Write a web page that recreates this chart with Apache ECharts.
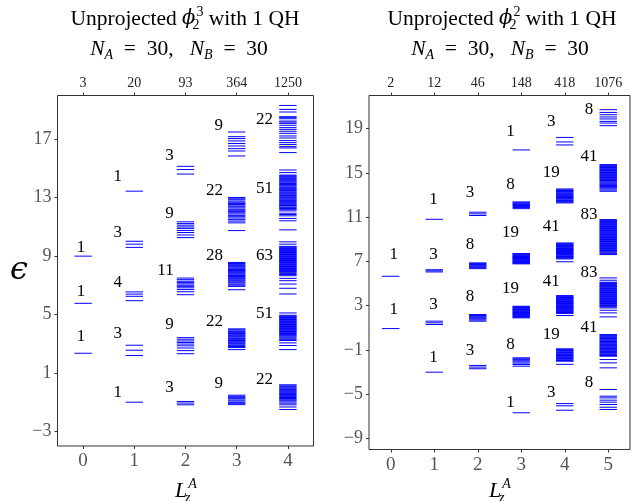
<!DOCTYPE html>
<html>
<head>
<meta charset="utf-8">
<script src="https://cdn.jsdelivr.net/npm/echarts/dist/echarts.min.js"></script>
<style>
html, body { margin: 0; padding: 0; background: #fff; }
#main { width: 634px; height: 501px; }
</style>
</head>
<body>
<div id="main"></div>
<script>
// ---- data ----
// panel A : phi_2^3 , panel B : phi_2^2
var lzA = [0, 1, 2, 3, 4];
var lzB = [0, 1, 2, 3, 4, 5];
var dimsA = [3, 20, 93, 364, 1250];
var dimsB = [2, 12, 46, 148, 418, 1076];
var yTicksA = [-3, 1, 5, 9, 13, 17];
var yTicksB = [-9, -5, -1, 3, 7, 11, 15, 19];

// number of levels in each cluster, top to bottom
var countsA = [[1, 1, 1], [1, 3, 4, 3, 1], [3, 9, 11, 9, 3], [9, 22, 28, 22, 9], [22, 51, 63, 51, 22]];
var countsB = [[1, 1], [1, 3, 3, 1], [3, 8, 8, 3], [1, 8, 19, 19, 8, 1], [3, 19, 41, 41, 19, 3], [8, 41, 83, 83, 41, 8]];

// entanglement energies, one array per L_z^A, clusters top to bottom
var levelsA0 = [[9.0], [5.77], [2.35]];
var levelsA1 = [[13.45], [10.02, 9.82, 9.6], [6.55, 6.4, 6.25, 5.95], [2.9, 2.56, 2.2], [-1.0]];
var levelsA2 = [
	[15.15, 14.93, 14.62],
	[11.35, 11.23, 11.12, 11.0, 10.9, 10.76, 10.62, 10.45, 10.27],
	[7.5, 7.39, 7.28, 7.19, 7.1, 7.01, 6.93, 6.83, 6.71, 6.56, 6.36],
	[3.42, 3.31, 3.19, 3.09, 2.98, 2.86, 2.71, 2.53, 2.32],
	[-0.95, -1.06, -1.18]
];
var levelsA3 = [
	[17.5, 17.18, 17.05, 16.89, 16.71, 16.54, 16.36, 16.2, 15.86],
	[13.02, 12.93, 12.86, 12.77, 12.69, 12.6, 12.53, 12.44, 12.38, 12.3, 12.21, 12.14, 12.05, 11.97, 11.89, 11.79, 11.7, 11.61, 11.5, 11.4, 11.28, 10.75],
	[8.57, 8.5, 8.44, 8.37, 8.31, 8.26, 8.19, 8.13, 8.08, 8.02, 7.96, 7.9, 7.85, 7.79, 7.72, 7.67, 7.61, 7.55, 7.48, 7.42, 7.35, 7.29, 7.22, 7.16, 7.08, 7.01, 6.93, 6.7],
	[4.02, 3.96, 3.88, 3.83, 3.76, 3.7, 3.65, 3.58, 3.52, 3.47, 3.4, 3.35, 3.28, 3.22, 3.17, 3.1, 3.03, 2.97, 2.89, 2.81, 2.74, 2.6],
	[-0.52, -0.6, -0.69, -0.76, -0.85, -0.92, -1.01, -1.08, -1.17]
];
var levelsA4 = [
	[19.32, 19.05, 18.87, 18.55, 18.48, 18.41, 18.25, 18.18, 18.09, 17.96, 17.8, 17.68, 17.55, 17.41, 17.23, 17.09, 16.91, 16.77, 16.64, 16.5, 16.41, 16.09],
	[14.9, 14.72, 14.55, 14.5, 14.44, 14.37, 14.33, 14.26, 14.2, 14.15, 14.09, 14.02, 13.97, 13.9, 13.86, 13.8, 13.73, 13.68, 13.62, 13.55, 13.5, 13.45, 13.38, 13.33, 13.27, 13.2, 13.16, 13.1, 13.03, 12.98, 12.92, 12.86, 12.8, 12.75, 12.69, 12.63, 12.58, 12.52, 12.47, 12.44, 12.36, 12.31, 12.26, 12.18, 12.1, 11.94, 11.85, 11.76, 11.58, 11.42, 10.8],
	[9.98, 9.82, 9.67, 9.62, 9.57, 9.53, 9.48, 9.44, 9.39, 9.34, 9.3, 9.25, 9.21, 9.16, 9.11, 9.07, 9.02, 8.98, 8.93, 8.88, 8.84, 8.79, 8.75, 8.7, 8.65, 8.61, 8.56, 8.52, 8.47, 8.42, 8.38, 8.33, 8.29, 8.24, 8.19, 8.15, 8.1, 8.06, 8.01, 7.96, 7.92, 7.86, 7.8, 7.74, 7.66, 7.48, 7.32, 7.09, 6.8, 6.41],
	[5.11, 4.95, 4.9, 4.85, 4.8, 4.76, 4.71, 4.66, 4.61, 4.56, 4.52, 4.47, 4.42, 4.37, 4.32, 4.28, 4.23, 4.18, 4.13, 4.08, 4.04, 3.99, 3.94, 3.89, 3.84, 3.8, 3.75, 3.7, 3.64, 3.58, 3.52, 3.45, 3.38, 3.3, 3.22, 3.06, 2.88, 2.6],
	[0.19, 0.12, 0.06, -0.01, -0.08, -0.14, -0.21, -0.28, -0.35, -0.41, -0.48, -0.55, -0.62, -0.68, -0.75, -0.83, -0.9, -0.98, -1.07, -1.18, -1.33, -1.5]
];

var levelsB0 = [[5.66], [0.93]];
var levelsB1 = [[10.81], [6.25, 6.15, 6.05], [1.6, 1.45, 1.3], [-3.01]];
var levelsB2 = [
	[11.45, 11.3, 11.15],
	[6.87, 6.8, 6.73, 6.65, 6.57, 6.5, 6.43, 6.35],
	[2.2, 2.12, 2.04, 1.95, 1.87, 1.79, 1.7, 1.6],
	[-2.4, -2.55, -2.7]
];
var levelsB3 = [
	[17.08],
	[12.38, 12.31, 12.22, 12.15, 12.06, 11.97, 11.88, 11.77],
	[7.71, 7.66, 7.6, 7.56, 7.5, 7.45, 7.41, 7.35, 7.3, 7.26, 7.2, 7.15, 7.1, 7.04, 6.99, 6.93, 6.88, 6.83, 6.78],
	[2.95, 2.9, 2.83, 2.78, 2.72, 2.66, 2.61, 2.55, 2.49, 2.43, 2.38, 2.31, 2.26, 2.2, 2.14, 2.08, 2.02, 1.96, 1.9],
	[-1.71, -1.8, -1.88, -1.98, -2.08, -2.19, -2.32, -2.47],
	[-6.68]
];
var levelsB4 = [
	[18.21, 17.8, 17.53],
	[13.55, 13.47, 13.41, 13.33, 13.27, 13.2, 13.12, 13.06, 12.98, 12.92, 12.86, 12.78, 12.71, 12.65, 12.57, 12.5, 12.43, 12.36, 12.29],
	[8.67, 8.6, 8.56, 8.49, 8.45, 8.38, 8.33, 8.29, 8.22, 8.17, 8.11, 8.07, 8.0, 7.96, 7.9, 7.83, 7.79, 7.72, 7.68, 7.61, 7.57, 7.5, 7.45, 7.41, 7.34, 7.29, 7.23, 6.97],
	[3.91, 3.85, 3.79, 3.74, 3.67, 3.62, 3.55, 3.5, 3.44, 3.38, 3.32, 3.27, 3.2, 3.15, 3.09, 3.03, 2.97, 2.92, 2.85, 2.8, 2.74, 2.68, 2.62, 2.57, 2.5, 2.45, 2.38, 2.3, 2.11],
	[-0.9, -0.97, -1.04, -1.1, -1.17, -1.24, -1.3, -1.37, -1.43, -1.5, -1.57, -1.63, -1.7, -1.77, -1.83, -1.9, -1.96, -2.02, -2.3],
	[-5.85, -6.05, -6.45]
];
var levelsB5 = [
	[20.72, 20.47, 20.26, 20.06, 19.88, 19.66, 19.51, 19.27],
	[15.75, 15.69, 15.62, 15.56, 15.49, 15.43, 15.36, 15.3, 15.23, 15.17, 15.1, 15.04, 14.97, 14.91, 14.84, 14.78, 14.71, 14.65, 14.58, 14.52, 14.45, 14.39, 14.32, 14.26, 14.18, 14.1, 14.02, 13.94, 13.86, 13.78, 13.71, 13.64, 13.55, 13.45, 13.34],
	[10.78, 10.72, 10.66, 10.6, 10.53, 10.47, 10.41, 10.35, 10.29, 10.22, 10.16, 10.1, 10.04, 9.98, 9.91, 9.85, 9.79, 9.73, 9.67, 9.6, 9.54, 9.48, 9.42, 9.36, 9.29, 9.23, 9.17, 9.11, 9.05, 8.98, 8.92, 8.86, 8.8, 8.74, 8.67, 8.61, 8.55, 8.49, 8.43, 8.36, 8.3, 8.24, 8.18, 8.12, 8.05, 7.99, 7.93, 7.86, 7.78, 7.7, 7.62],
	[5.51, 5.3, 5.12, 5.06, 5.0, 4.93, 4.87, 4.81, 4.75, 4.69, 4.62, 4.56, 4.5, 4.44, 4.38, 4.31, 4.25, 4.19, 4.13, 4.07, 4.0, 3.94, 3.88, 3.82, 3.76, 3.69, 3.63, 3.57, 3.51, 3.45, 3.38, 3.32, 3.26, 3.2, 3.14, 3.07, 3.01, 2.95, 2.88, 2.8, 2.59, 2.35, 1.99],
	[0.39, 0.32, 0.25, 0.18, 0.11, 0.04, -0.03, -0.1, -0.17, -0.24, -0.31, -0.38, -0.45, -0.52, -0.59, -0.66, -0.73, -0.8, -0.87, -0.94, -1.01, -1.08, -1.15, -1.22, -1.29, -1.36, -1.43, -1.5, -1.57, -1.87, -2.17, -2.62],
	[-4.58, -5.18, -5.33, -5.54, -5.72, -5.93, -6.18, -6.38]
];

// ---- layout of the count labels (energy axis units) ----
var labelYA = [[9.57, 6.61, 3.52], [14.47, 10.62, 7.2, 3.67, -0.31], [15.86, 11.94, 8.0, 4.29, 0.03], [17.96, 13.51, 9.03, 4.52, 0.26], [18.37, 13.63, 9.03, 5.04, 0.53]];
var labelYB = [[7.62, 2.65], [12.59, 7.62, 3.1, -1.72], [13.19, 8.52, 3.85, -1.03], [18.76, 13.94, 9.58, 4.52, -0.51, -5.78], [19.66, 15.0, 10.18, 5.21, 0.39, -4.82], [20.72, 16.5, 11.23, 6.02, 1.0, -3.97]];
var labelDxA = [-0.04, -0.24, -0.23, -0.27, -0.29];
var labelAlignA = ['center', 'right', 'right', 'right', 'right'];
var labelDxB = [0.07, -0.02, -0.18, -0.25, -0.31, -0.44];
var labelAlignB = ['center', 'center', 'center', 'center', 'center', 'center'];

var serif = '"Liberation Serif", "DejaVu Serif", serif';

function toLines(cols) {
	var out = [];
	cols.forEach(function(clusters, L) {
		clusters.forEach(function(c) {
			c.forEach(function(e) { out.push([L, e]); });
		});
	});
	return out;
}

function toLabels(counts, ys) {
	var out = [];
	counts.forEach(function(col, L) {
		col.forEach(function(n, k) { out.push([L, ys[L][k], n]); });
	});
	return out;
}

// short horizontal segment for every level
function drawLevel(halfW) {
	return function(params, api) {
		var x = api.value(0), y = api.value(1);
		var p1 = api.coord([x - halfW, y]);
		var p2 = api.coord([x + halfW, y]);
		return {
			type : 'line',
			shape : { x1 : p1[0], y1 : p1[1], x2 : p2[0], y2 : p2[1] },
			style : { stroke : '#0000ff', lineWidth : 1 }
		};
	};
}

function drawCount(dx, align) {
	return function(params, api) {
		var L = api.value(0);
		var p = api.coord([L + dx[L], api.value(1)]);
		return {
			type : 'text',
			x : p[0],
			y : p[1],
			style : {
				text : String(api.value(2)),
				fill : '#000',
				fontSize : 17,
				fontFamily : serif,
				align : align[L],
				verticalAlign : 'middle',
				textAlign : align[L],
				textVerticalAlign : 'middle'
			}
		};
	};
}

function minus(v) {
	return v < 0 ? '\u2212' + Math.abs(v) : String(v);
}

function mathRich(size) {
	var s = Math.round(size * 0.65);
	return {
		i : { fontFamily : serif, fontStyle : 'italic', fontSize : size, lineHeight : size + 6 },
		g : { fontFamily : '"DejaVu Serif", serif', fontStyle : 'italic', fontSize : size - 2, lineHeight : size + 6 },
		sb : { fontFamily : serif, fontStyle : 'italic', fontSize : s, lineHeight : s + 1, verticalAlign : 'bottom' },
		sbs : { fontFamily : serif, fontSize : s, lineHeight : s + 1, verticalAlign : 'bottom', width : 1 },
		sbi : { fontFamily : serif, fontStyle : 'italic', fontSize : s, lineHeight : s + 1, verticalAlign : 'bottom', width : 1 },
		sp : { fontFamily : serif, fontSize : s, lineHeight : s + 1, verticalAlign : 'top' },
		spi : { fontFamily : serif, fontStyle : 'italic', fontSize : s, lineHeight : s + 1, verticalAlign : 'top' }
	};
}

function mathText(x, y, text, size) {
	return {
		type : 'text',
		x : x,
		y : y,
		silent : true,
		style : {
			text : text,
			rich : mathRich(size),
			fill : '#000',
			fontSize : size,
			fontFamily : serif,
			lineHeight : size + 6,
			align : 'center',
			verticalAlign : 'middle',
			textAlign : 'center',
			textVerticalAlign : 'middle'
		}
	};
}

function xAxes(grid, lz, dims) {
	var max = lz[lz.length - 1] + 0.5;
	return [ {
		type : 'value',
		gridIndex : grid,
		min : -0.5,
		max : max,
		position : 'bottom',
		axisLine : { show : false, onZero : false },
		splitLine : { show : false },
		axisTick : { show : true, length : 3, customValues : lz, lineStyle : { color : '#333' } },
		axisLabel : { customValues : lz, margin : 6, fontSize : 19, fontFamily : serif, color : '#555' }
	}, {
		type : 'value',
		gridIndex : grid,
		min : -0.5,
		max : max,
		position : 'top',
		axisLine : { show : false, onZero : false },
		splitLine : { show : false },
		axisTick : { show : true, length : 3, customValues : lz, lineStyle : { color : '#333' } },
		axisLabel : {
			customValues : lz,
			margin : 5,
			fontSize : 14,
			fontFamily : serif,
			color : '#222',
			formatter : function(v) { return String(dims[Math.round(v)]); }
		}
	} ];
}

function yAxis(grid, min, max, ticks) {
	return {
		type : 'value',
		gridIndex : grid,
		min : min,
		max : max,
		position : 'left',
		axisLine : { show : false, onZero : false },
		splitLine : { show : false },
		axisTick : { show : true, length : 3, customValues : ticks, lineStyle : { color : '#333' } },
		axisLabel : { customValues : ticks, margin : 6, fontSize : 18, fontFamily : serif, color : '#555', formatter : minus }
	};
}

var myChart = echarts.init(document.getElementById('main'), null, { renderer : 'canvas' });

var subLine = '{i|N}{sb|A}  =  30,   {i|N}{sb|B}  =  30';

var option = {
	backgroundColor : '#fff',
	animation : false,
	grid : [
		{ left : 57.5, top : 95.5, width : 256, height : 350.5, show : true, borderColor : '#333', borderWidth : 1 },
		{ left : 369, top : 95.5, width : 261, height : 354, show : true, borderColor : '#333', borderWidth : 1 }
	],
	xAxis : xAxes(0, lzA, dimsA).concat(xAxes(1, lzB, dimsB)),
	yAxis : [ yAxis(0, -4, 20, yTicksA), yAxis(1, -10, 22, yTicksB) ],
	series : [ {
		type : 'custom',
		xAxisIndex : 0,
		yAxisIndex : 0,
		silent : true,
		encode : { x : 0, y : 1 },
		data : toLines([ levelsA0, levelsA1, levelsA2, levelsA3, levelsA4 ]),
		renderItem : drawLevel(0.17)
	}, {
		type : 'custom',
		xAxisIndex : 0,
		yAxisIndex : 0,
		silent : true,
		encode : { x : 0, y : 1 },
		data : toLabels(countsA, labelYA),
		renderItem : drawCount(labelDxA, labelAlignA)
	}, {
		type : 'custom',
		xAxisIndex : 2,
		yAxisIndex : 1,
		silent : true,
		encode : { x : 0, y : 1 },
		data : toLines([ levelsB0, levelsB1, levelsB2, levelsB3, levelsB4, levelsB5 ]),
		renderItem : drawLevel(0.2)
	}, {
		type : 'custom',
		xAxisIndex : 2,
		yAxisIndex : 1,
		silent : true,
		encode : { x : 0, y : 1 },
		data : toLabels(countsB, labelYB),
		renderItem : drawCount(labelDxB, labelAlignB)
	} ],
	graphic : [
		mathText(185, 19, 'Unprojected {g|\u03d5}{sbs|2}{sp|3} with 1 QH', 21.5),
		mathText(179, 49, subLine, 21.5),
		mathText(502, 19, 'Unprojected {g|\u03d5}{sbs|2}{sp|2} with 1 QH', 21.5),
		mathText(500, 49, subLine, 21.5),
		mathText(186, 491, '{i|L}{sbi|z}{spi|A}', 22),
		mathText(500, 491, '{i|L}{sbi|z}{spi|A}', 22),
		{
			type : 'text',
			x : 19,
			y : 271,
			silent : true,
			style : {
				text : '\u03f5',
				fill : '#000',
				fontSize : 32,
				fontStyle : 'italic',
				fontFamily : '"DejaVu Serif", serif',
				align : 'center',
				verticalAlign : 'middle',
				textAlign : 'center',
				textVerticalAlign : 'middle'
			}
		}
	]
};

myChart.setOption(option);
</script>
</body>
</html>
